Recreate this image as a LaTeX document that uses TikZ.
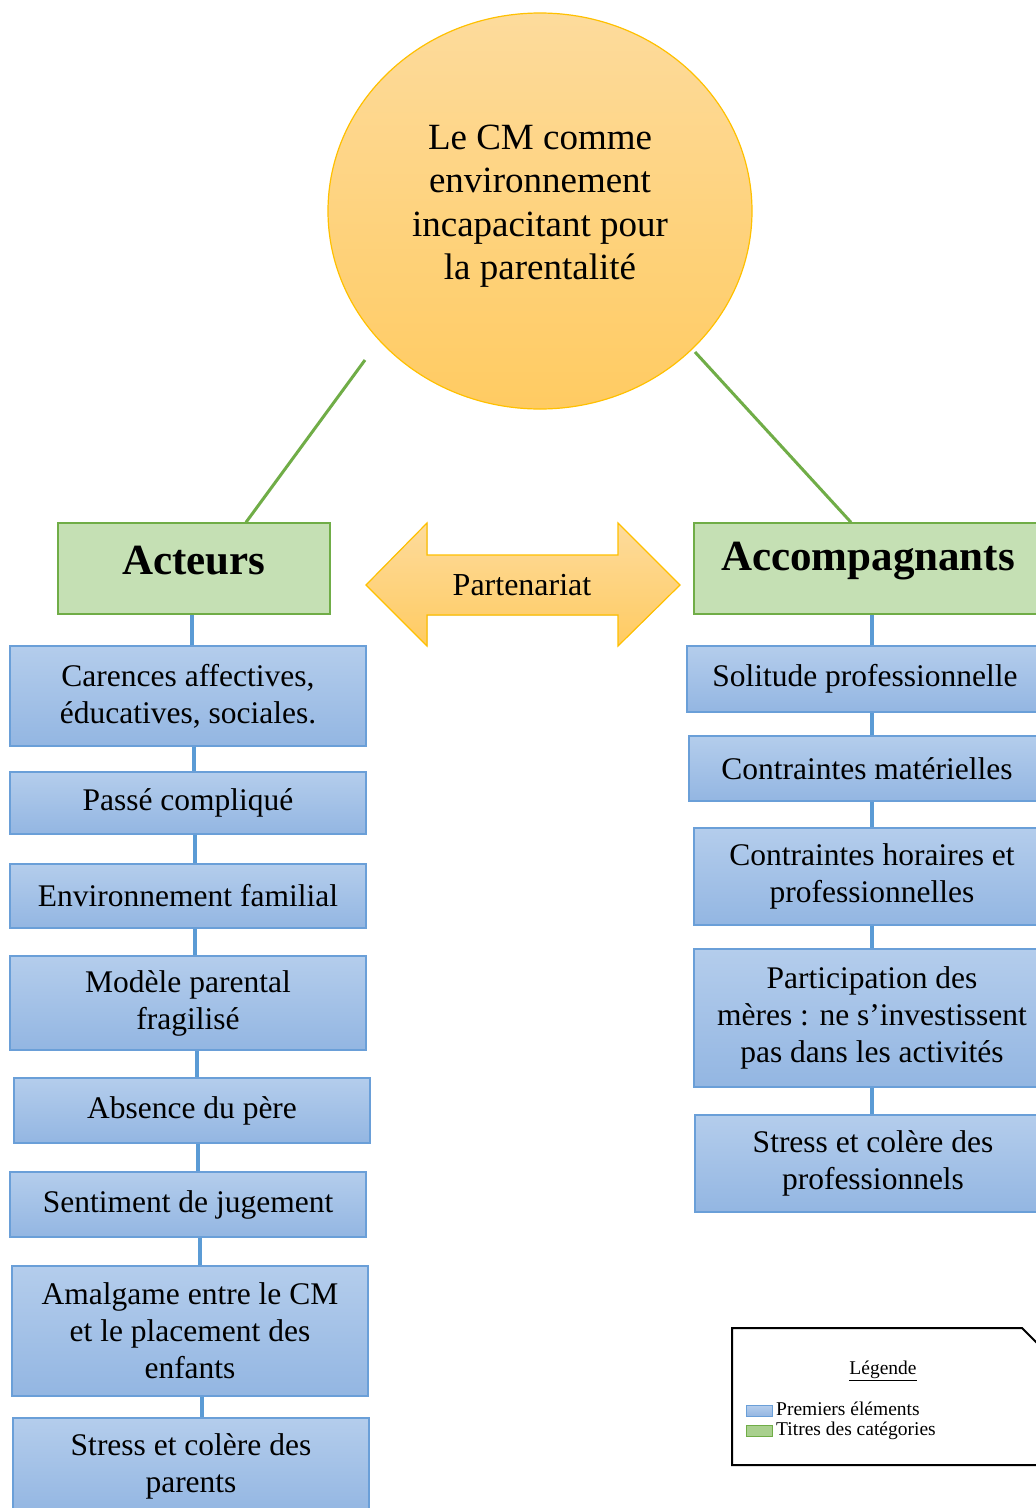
\documentclass[tikz,border=0pt]{standalone}
\usepackage{fontspec}
\setmainfont{Liberation Serif}
\usetikzlibrary{shapes.geometric}
\definecolor{bluetop}{HTML}{B4CDEC}
\definecolor{bluebot}{HTML}{93B6E2}
\definecolor{blueedge}{HTML}{6A9FD8}
\definecolor{blueline}{HTML}{5B9BD5}
\definecolor{greenfill}{HTML}{C5E0B4}
\definecolor{greenleg}{HTML}{A9D08E}
\definecolor{greenedge}{HTML}{70AD47}
\definecolor{orgtop}{HTML}{FDDB9C}
\definecolor{orgbot}{HTML}{FFCB62}
\definecolor{orgedge}{HTML}{FFC000}
\tikzset{
  bluebox/.style={rectangle, draw=blueedge, line width=1.4pt, top color=bluetop, bottom color=bluebot,
    align=center, inner sep=0pt, font=\fontsize{31.5}{37}\selectfont},
  greenbox/.style={rectangle, draw=greenedge, line width=1.4pt, fill=greenfill,
    align=center, inner sep=0pt, font=\fontsize{43}{48}\selectfont\bfseries},
  conn/.style={draw=blueline, line width=4pt},
  gline/.style={draw=greenedge, line width=3pt},
}
\begin{document}
\begin{tikzpicture}[x=1pt,y=-1pt]
\useasboundingbox (0,0) rectangle (1036,1508);
\clip (0,0) rectangle (1036,1508);
\fill[white] (0,0) rectangle (1036,1508);

% title ellipse
\node[ellipse, draw=orgedge, line width=1.2pt, top color=orgtop, bottom color=orgbot,
  minimum width=424pt, minimum height=396pt, inner sep=0pt] (circ) at (540,211) {};
\node[align=center, font=\fontsize{37}{43.5}\selectfont] (title) at (540,206)
  {Le CM comme\\environnement\\incapacitant pour\\la parentalité};

% category titles
\node[greenbox, minimum width=272pt, minimum height=91pt] (act) at (194,568.5) {};
\node[greenbox, minimum width=348pt, minimum height=91pt] (acc) at (868,568.5) {};
\node[font=\fontsize{43}{48}\selectfont\bfseries] (actt) at (194,561) {Acteurs};
\node[font=\fontsize{43}{48}\selectfont\bfseries] (acct) at (868,561) {Accompagnants};

\coordinate (g1) at (365,360);
\coordinate (g2) at (695,352);
\draw[gline] (g1) -- ([xshift=52pt]act.north);
\draw[gline] (g2) -- ([xshift=-17pt]acc.north);

% double arrow
\filldraw[draw=orgedge, line width=1.2pt, top color=orgtop, bottom color=orgbot]
  (366,585) -- (427,523) -- (427,555) -- (618,555) -- (618,523) -- (680,585)
  -- (618,646) -- (618,615) -- (427,615) -- (427,646) -- cycle;
\node[font=\fontsize{32}{36}\selectfont] (part) at (522,585) {Partenariat};

% left column
\node[bluebox, minimum width=356pt, minimum height=100pt] (l1) at (188,696) {Carences affectives,\\éducatives, sociales.};
\node[bluebox, minimum width=356pt, minimum height=62pt] (l2) at (188,803) {Passé compliqué};
\node[bluebox, minimum width=356pt, minimum height=64pt] (l3) at (188,896) {Environnement familial};
\node[bluebox, minimum width=356pt, minimum height=94pt] (l4) at (188,1003) {Modèle parental\\fragilisé};
\node[bluebox, minimum width=356pt, minimum height=65pt] (l5) at (192,1110.5) {Absence du père};
\node[bluebox, minimum width=356pt, minimum height=65pt] (l6) at (188,1204.5) {Sentiment de jugement};
\node[bluebox, minimum width=356pt, minimum height=130pt] (l7) at (190,1331) {Amalgame entre le CM\\et le placement des\\enfants};
\node[bluebox, minimum width=356pt, minimum height=96pt] (l8) at (191,1466) {Stress et colère des\\parents};

\draw[conn] ([xshift=-2pt]act.south) -- ([xshift=-2pt]act.south |- l1.north);
\draw[conn] ([xshift=6pt]l1.south) -- ([xshift=6pt]l1.south |- l2.north);
\draw[conn] ([xshift=7pt]l2.south) -- ([xshift=7pt]l2.south |- l3.north);
\draw[conn] ([xshift=7pt]l3.south) -- ([xshift=7pt]l3.south |- l4.north);
\draw[conn] ([xshift=9pt]l4.south) -- ([xshift=9pt]l4.south |- l5.north);
\draw[conn] ([xshift=6pt]l5.south) -- ([xshift=6pt]l5.south |- l6.north);
\draw[conn] ([xshift=12pt]l6.south) -- ([xshift=12pt]l6.south |- l7.north);
\draw[conn] ([xshift=12pt]l7.south) -- ([xshift=12pt]l7.south |- l8.north);

% right column
\node[bluebox, minimum width=356pt, minimum height=66pt] (r1) at (865,679) {Solitude professionnelle};
\node[bluebox, minimum width=356pt, minimum height=65pt] (r2) at (867,768.5) {Contraintes matérielles};
\node[bluebox, minimum width=356pt, minimum height=97pt] (r3) at (872,876.5) {Contraintes horaires et\\professionnelles};
\node[bluebox, minimum width=356pt, minimum height=138pt] (r4) at (872,1018) {Participation des\\mères : ne s’investissent\\pas dans les activités};
\node[bluebox, minimum width=356pt, minimum height=97pt] (r5) at (873,1163.5) {Stress et colère des\\professionnels};

\draw[conn] ([xshift=4pt]acc.south) -- ([xshift=4pt]acc.south |- r1.north);
\draw[conn] ([xshift=7pt]r1.south) -- ([xshift=7pt]r1.south |- r2.north);
\draw[conn] ([xshift=5pt]r2.south) -- ([xshift=5pt]r2.south |- r3.north);
\draw[conn] (r3.south) -- (r3.south |- r4.north);
\draw[conn] (r4.south) -- (r4.south |- r5.north);

% legend
\draw[line width=2pt, fill=white] (732,1328) -- (1022,1328) -- (1042,1348) -- (1042,1465) -- (732,1465) -- cycle;
\node[font=\fontsize{19.5}{22}\selectfont] (legt) at (883,1371) {\underline{Légende}};
\node[draw=blueedge, line width=1pt, top color=bluetop, bottom color=bluebot, minimum width=26pt, minimum height=11pt, inner sep=0pt] (lb) at (759,1411) {};
\node[draw=greenedge, line width=1pt, fill=greenleg, minimum width=26pt, minimum height=11pt, inner sep=0pt] (lg) at (759,1431) {};
\node[anchor=west, inner sep=0pt, font=\fontsize{19.5}{22}\selectfont] (lbt) at (776,1409) {Premiers éléments};
\node[anchor=west, inner sep=0pt, font=\fontsize{19.5}{22}\selectfont] (lgt) at (776,1431) {Titres des catégories};
\end{tikzpicture}
\end{document}
